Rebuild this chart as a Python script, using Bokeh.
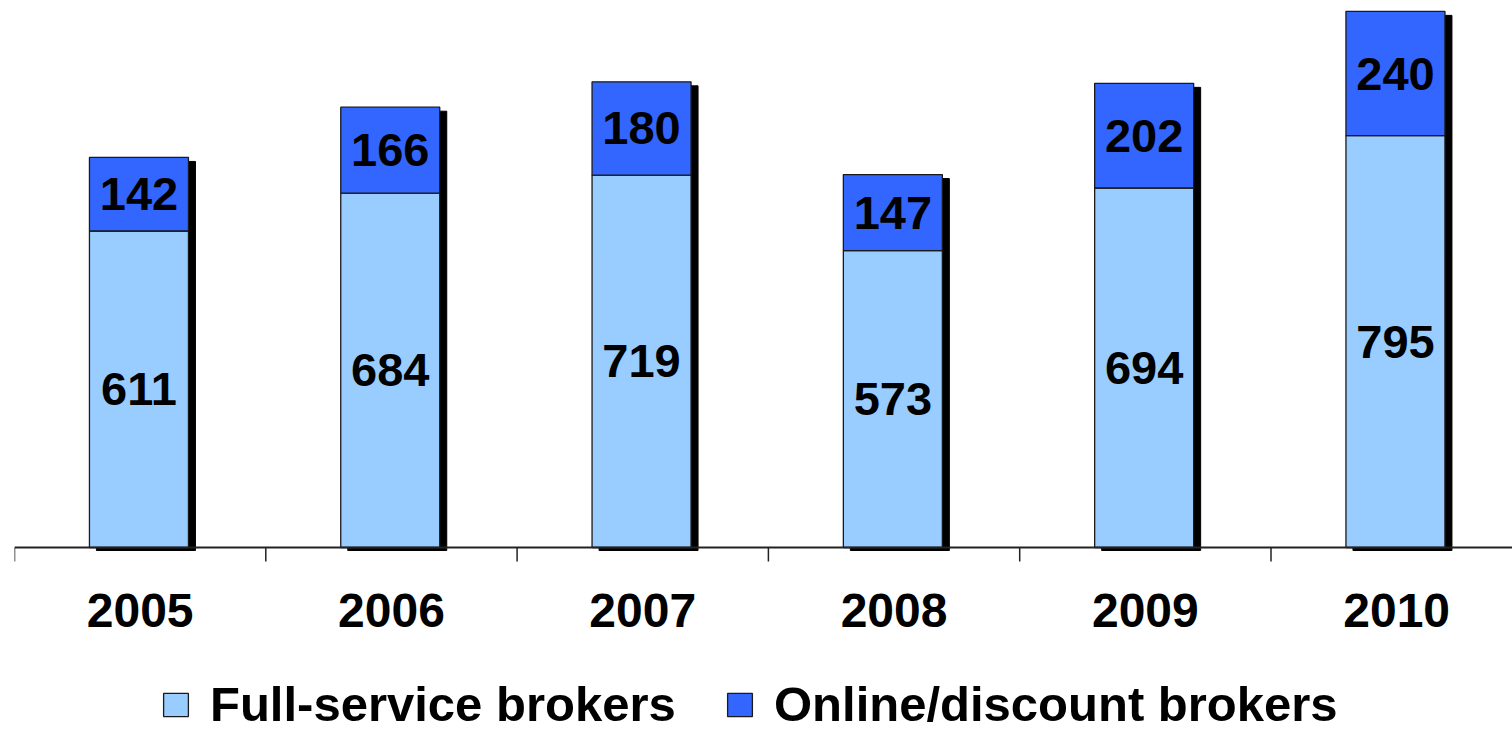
from bokeh.plotting import figure
from bokeh.models import ColumnDataSource, Span, Legend, LegendItem
from bokeh.transform import dodge
from bokeh.embed import file_html
from bokeh.resources import INLINE

# ---- data ----
years = ["2005", "2006", "2007", "2008", "2009", "2010"]
full_service = [611, 684, 719, 573, 694, 795]
online_discount = [142, 166, 180, 147, 202, 240]
series_names = ["Full-service brokers", "Online/discount brokers"]

# ---- style constants ----
FONT = "Liberation Sans"
LIGHT = "#99CCFF"
DARK = "#3366FF"
FIG_W, FIG_H = 1512, 732
LEFT = 14                 # frame starts here
ZERO_PX = 547             # screen y of value 0
PX_PER_UNIT = 0.518       # vertical pixels per value unit
CAT_PX = 251.3            # pixels per category
FRAME_W = FIG_W - LEFT
BAR_W = 99 / CAT_PX
BAR_DX = -1.2 / CAT_PX
SHADOW_DX = 7 / CAT_PX
SHADOW_DY = 4 / PX_PER_UNIT
SHADOW_BOTTOM = -3 / PX_PER_UNIT
TICK_LEN = 14 / PX_PER_UNIT
YEAR_Y = -(609.5 - ZERO_PX) / PX_PER_UNIT

n = len(years)
xs = [i + 0.5 for i in range(n)]
totals = [a + b for a, b in zip(full_service, online_discount)]
src = ColumnDataSource(dict(
    x=xs,
    year=years,
    full=full_service,
    online=online_discount,
    total=totals,
    full_mid=[a / 2 for a in full_service],
    online_mid=[a + b / 2 for a, b in zip(full_service, online_discount)],
    full_lbl=[str(v) for v in full_service],
    online_lbl=[str(v) for v in online_discount],
))

p = figure(
    frame_width=FRAME_W, frame_height=FIG_H,
    x_range=(0, FRAME_W / CAT_PX),
    y_range=(-(FIG_H - ZERO_PX) / PX_PER_UNIT, ZERO_PX / PX_PER_UNIT),
    output_backend="svg", toolbar_location=None,
    min_border_top=0, min_border_left=LEFT, min_border_right=0, min_border_bottom=0,
)
p.outline_line_color = None
p.grid.visible = False
p.xaxis.visible = False
p.yaxis.visible = False
p.background_fill_color = "white"
p.border_fill_color = "white"

# shadow behind each stacked bar
p.vbar(x=dodge("x", BAR_DX + SHADOW_DX), top=dodge("total", -SHADOW_DY), bottom=SHADOW_BOTTOM,
       width=BAR_W, source=src, fill_color="black", line_color="black")

# stacked bars
rs = p.vbar_stack(["full", "online"], x=dodge("x", BAR_DX), width=BAR_W, source=src,
                  fill_color=[LIGHT, DARK], line_color="#1a1a1a", line_width=1.3)

# category axis: baseline, boundary ticks, year labels
p.add_layout(Span(location=0, dimension="width", line_color="#222222", line_width=2))
bounds = list(range(n + 1))
p.segment(x0=bounds, y0=[0] * len(bounds), x1=bounds, y1=[-TICK_LEN] * len(bounds),
          line_color="#222222", line_width=1.5)
p.text(x="x", y=YEAR_Y, text="year", source=src,
       text_font={"value": FONT}, text_font_size="48px", text_font_style="bold",
       text_color="black", text_align="center", text_baseline="middle")

# value labels
for ycol, tcol in (("full_mid", "full_lbl"), ("online_mid", "online_lbl")):
    p.text(x=dodge("x", BAR_DX), y=ycol, text=tcol, source=src,
           text_font={"value": FONT}, text_font_size="47px", text_font_style="bold",
           text_color="black", text_align="center", text_baseline="middle")

# legend: two entries placed separately
leg_common = dict(
    orientation="horizontal", glyph_width=31, glyph_height=29, label_standoff=19,
    padding=0, margin=0, border_line_color=None, background_fill_alpha=0,
    label_text_font=FONT, label_text_font_size="49px", label_text_font_style="bold",
    label_text_color="black",
)
for r, name, gx in ((rs[0], series_names[0], 160), (rs[1], series_names[1], 724)):
    lg = Legend(items=[LegendItem(label=name, renderers=[r])],
                location=(gx - LEFT, 0), **leg_common)
    p.add_layout(lg, "center")

open("out.html", "w").write(file_html(p, INLINE))
